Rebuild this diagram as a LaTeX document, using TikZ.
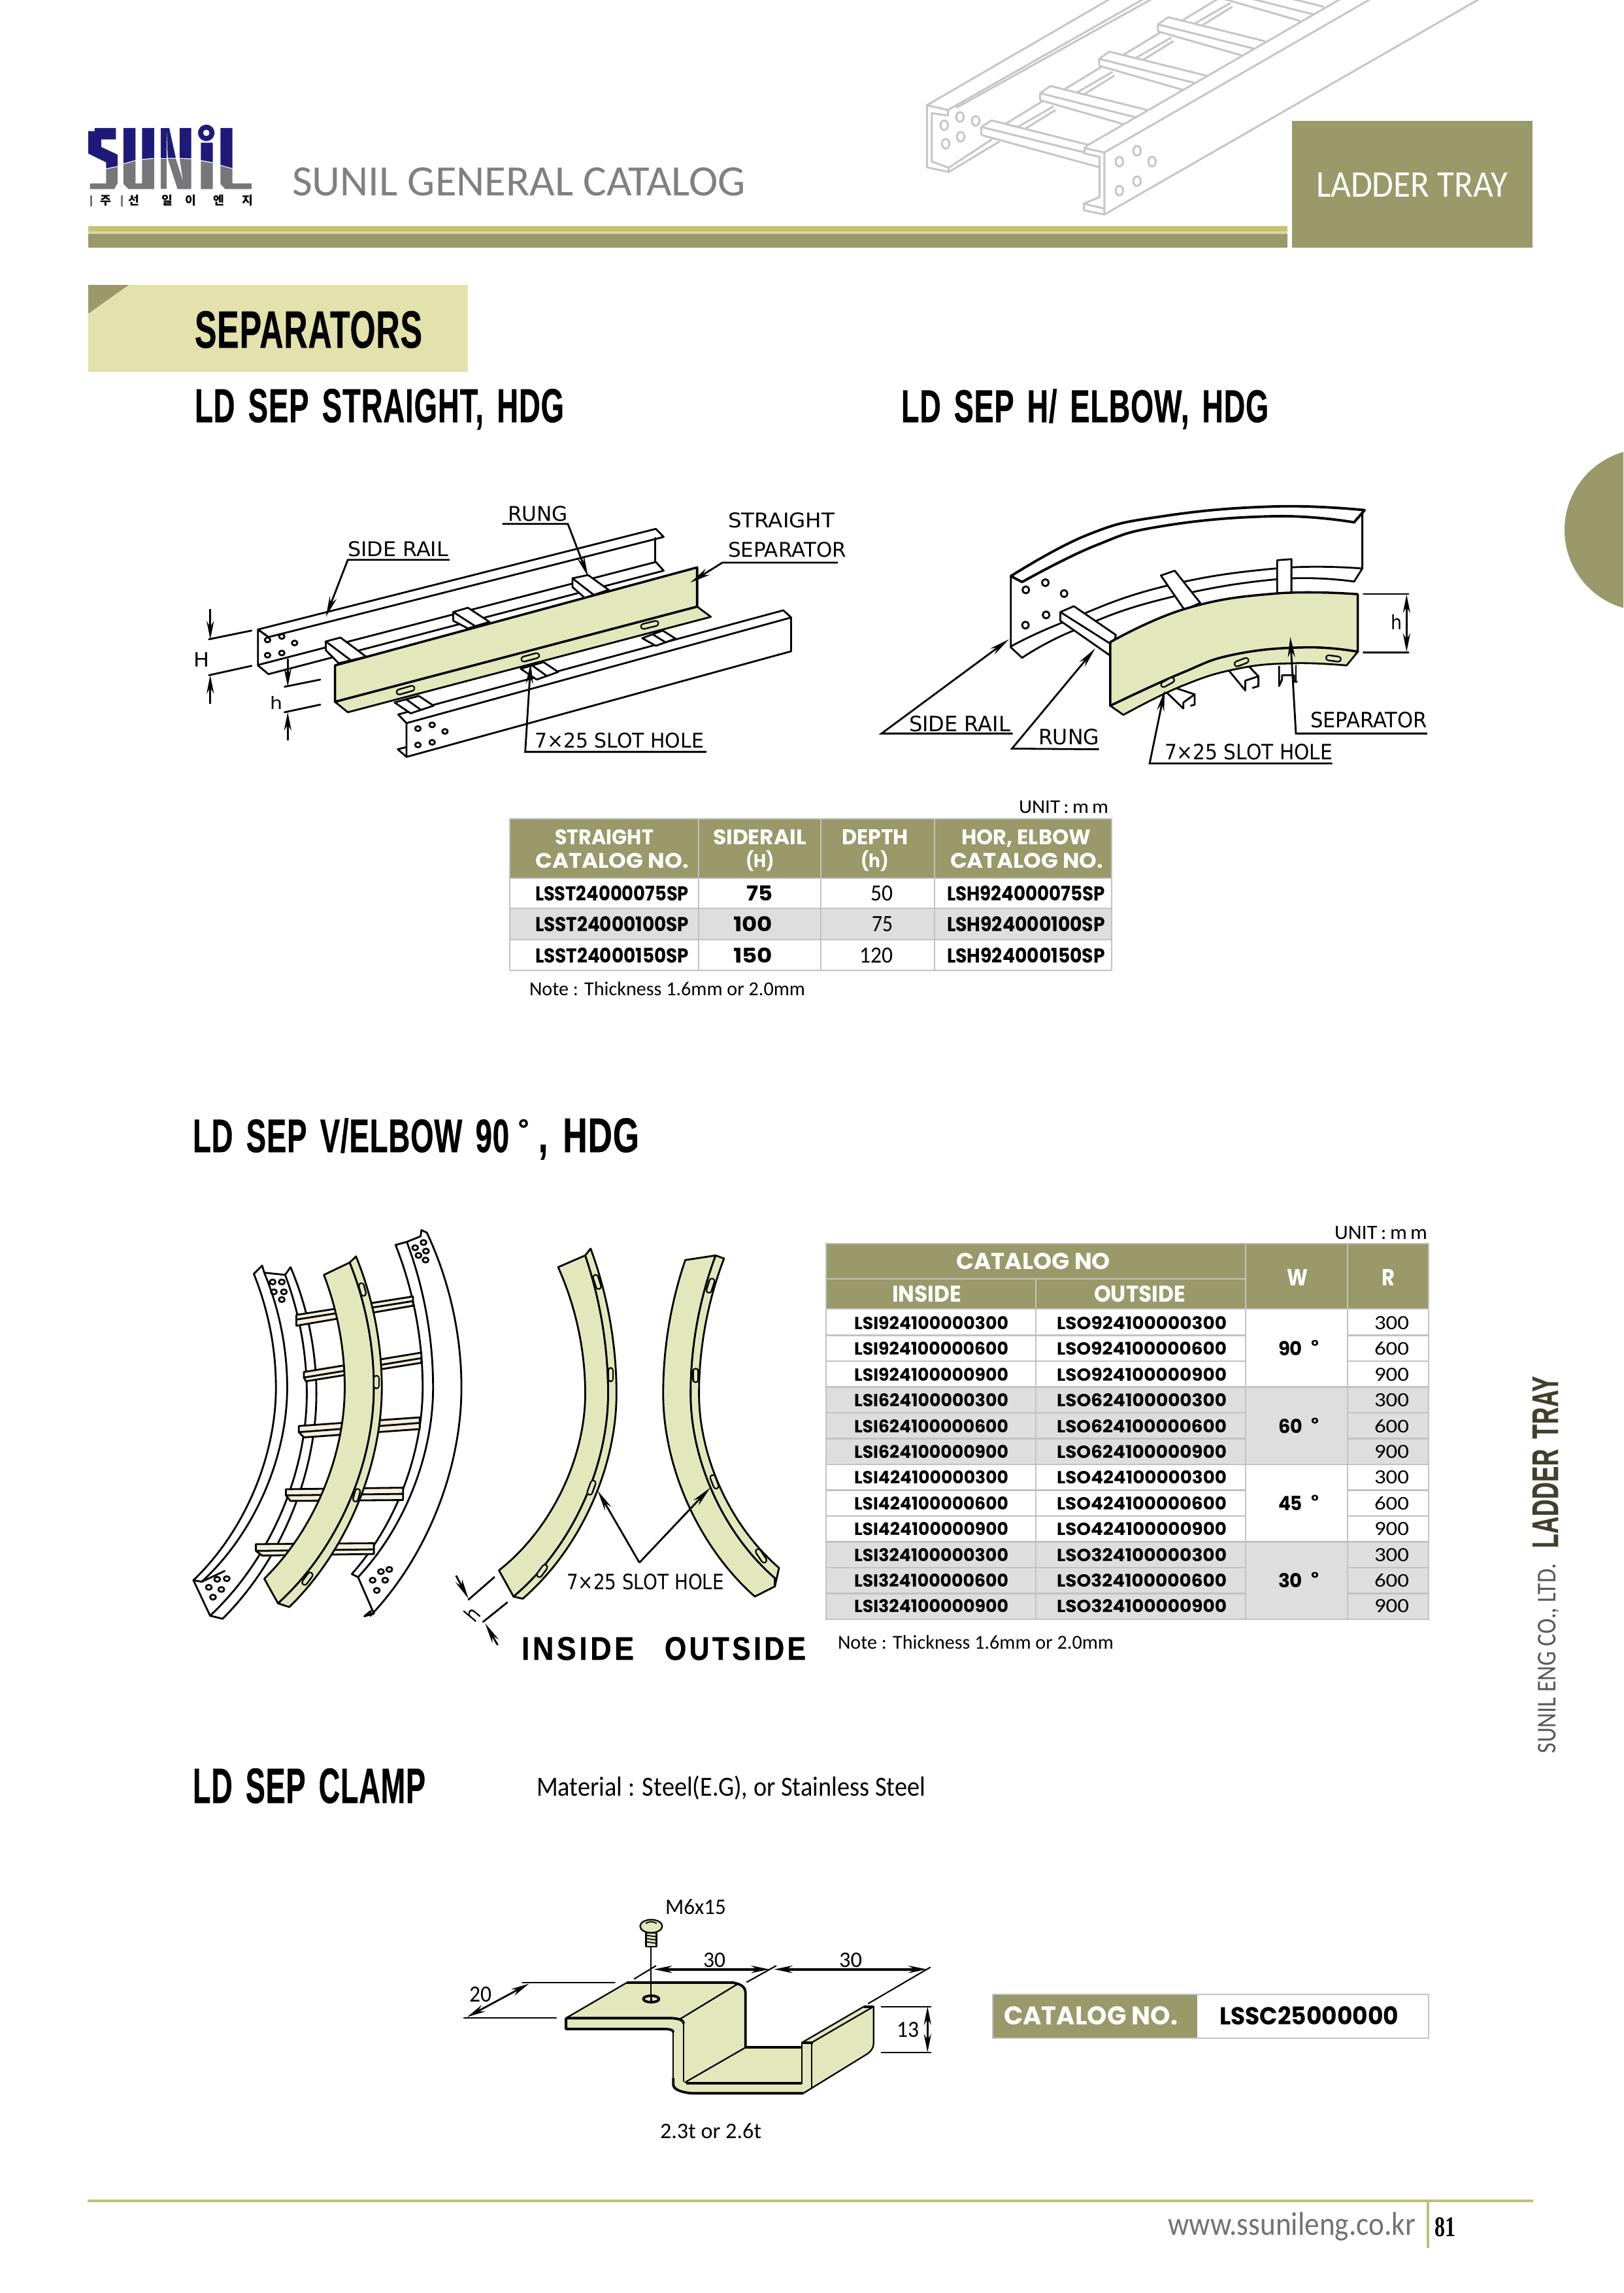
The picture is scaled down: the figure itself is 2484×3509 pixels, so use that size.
\documentclass[tikz,border=0pt]{standalone}
\usepackage{fontspec}
\usepackage{graphicx}
\usetikzlibrary{arrows.meta}
\setmainfont{Liberation Sans}
\newfontfamily\fT{Liberation Sans}[WordSpace=1.5,LetterSpace=2,BoldFeatures={FakeBold=0.7}]
\newfontfamily\fD{DejaVu Sans}
\newfontfamily\fP{Poppins}
\newfontfamily\fC{Carlito}
\newfontfamily\fK{Noto Sans CJK KR}
\newfontfamily\fS{Liberation Serif}
\definecolor{olive}{HTML}{999969}
\definecolor{stripe}{HTML}{C8C26E}
\definecolor{pale}{HTML}{D8D6A0}
\definecolor{banner}{HTML}{E3E1AC}
\definecolor{sepg}{HTML}{E3E8BC}
\definecolor{cream}{HTML}{F4F0DC}
\definecolor{rowg}{HTML}{DEDEDE}
\definecolor{gridg}{HTML}{C2C2C2}
\definecolor{navyl}{HTML}{1F1A7A}
\definecolor{grayl}{HTML}{77777B}
\definecolor{ladg}{HTML}{C6C6C6}
\definecolor{footl}{HTML}{C2BE7A}
\newdimen\pxu \pxu=0.01cm
\newcommand\lab[7][]{\node[anchor=base west,inner sep=0pt,outer sep=0pt,#1] (#2) at (#3,#4) {\resizebox{#5\pxu}{#6\pxu}{#7}};}
\newcommand\tb[1]{{\fT\bfseries #1}}
\newcommand\dg[1]{{\fD #1}}
\newcommand\pp[1]{{\fP\bfseries #1}}
\newcommand\cc[1]{{\fC #1}}
% a curve through top, widest point and bottom, as two near-circular pieces
\newcommand\defcrv[7]{%
 \pgfmathsetmacro\qk{1.351}%
 \pgfmathsetmacro\qdx{(#4-#2)*\qk}\pgfmathsetmacro\qdy{#5-#3}%
 \pgfmathsetmacro\qL{veclen(\qdx,\qdy)}%
 \pgfmathsetmacro\qtx{2*(\qdy/\qL)*(\qdx/\qL)}%
 \pgfmathsetmacro\qty{2*(\qdy/\qL)*(\qdy/\qL)-1}%
 \pgfmathsetmacro\qa{#2+\qL/3*\qtx/\qk}\pgfmathsetmacro\qb{#3+\qL/3*\qty}\pgfmathsetmacro\qc{#5-\qL/3}%
 \pgfmathsetmacro\qdx{(#6-#4)*\qk}\pgfmathsetmacro\qdy{#7-#5}%
 \pgfmathsetmacro\qL{veclen(\qdx,\qdy)}%
 \pgfmathsetmacro\qtx{2*(\qdy/\qL)*(\qdx/\qL)}%
 \pgfmathsetmacro\qty{2*(\qdy/\qL)*(\qdy/\qL)-1}%
 \pgfmathsetmacro\qd{#5+\qL/3}\pgfmathsetmacro\qe{#6-\qL/3*\qtx/\qk}\pgfmathsetmacro\qf{#7-\qL/3*\qty}%
 \expandafter\xdef\csname F#1\endcsname{(#2,#3) .. controls (\qa,\qb) and (#4,\qc) .. (#4,#5) .. controls (#4,\qd) and (\qe,\qf) .. (#6,#7)}%
 \expandafter\xdef\csname B#1\endcsname{(#6,#7) .. controls (\qe,\qf) and (#4,\qd) .. (#4,#5) .. controls (#4,\qc) and (\qa,\qb) .. (#2,#3)}%
}
\tikzset{
  ln/.style={line width=0.8pt,black,line join=round,line cap=round},
  thk/.style={line width=1.1pt,black,line join=round},
  lad/.style={line width=0.85pt,ladg,line join=round},
  grid/.style={line width=0.75pt,gridg},
  slot/.style={double=sepg,double distance=1.5pt,line width=0.7pt,line cap=round,black},
  dim/.style={line width=0.8pt,black,{Stealth[length=8pt,width=3.2pt]}-{Stealth[length=8pt,width=3.2pt]}},
  lead/.style={line width=0.8pt,black,-{Stealth[length=9pt,width=3.2pt]}},
  sm/.style={smooth,tension=.75},
}
\begin{document}
\begin{tikzpicture}[x=0.01cm,y=-0.01cm]
\useasboundingbox (0,0) rectangle (2484,3509);
\clip (0,0) rectangle (2484,3509);
\fill[white] (0,0) rectangle (2484,3509);
% ---------- header ladder drawing
\begin{scope}[shift={(1400,0)},xscale=0.574,yscale=0.3333]
 \draw[lad] (32,483)--(520,-5);
 \draw[lad] (88,505)--(610,-5);
 \draw[lad] (110,495)--(632,-5);
 \draw[lad] (88,505)--(32,483)--(32,768)--(90,790)--(90,770)--(45,742)--(45,520)--(88,530)--cycle;
 \draw[lad] (90,790)--(225,650);
 \draw[lad] (90,770)--(205,640);
 \foreach \hx/\hy in {78/575,120/537,162/555,122/628,82/660,545/742,592/692,632/742,592/832,545/875}
   \draw[lad] (\hx,\hy) ellipse [x radius=10,y radius=22];
 \foreach \k in {0,1,2,3}{
  \begin{scope}[shift={({157*\k},{-158*\k})}]
   \draw[lad] (240,570)--(340,465);
   \draw[lad] (275,582)--(370,488);
   \draw[lad] (295,590)--(375,505);
  \end{scope}}
 \foreach \k in {1,2,3,4,5}{
  \begin{scope}[shift={({157*\k},{-158*\k})}]
   \draw[lad] (177,618)--(177,586)--(204,553)--(462,663);
   \draw[lad] (177,586)--(434,698);
   \draw[lad] (177,618)--(399,728);
  \end{scope}}
 \draw[lad] (177,620)--(177,583)--(204,553)--(462,665);
 \draw[lad] (177,583)--(452,700);
 \draw[lad] (177,620)--(492,768);
 \draw[lad] (462,665)--(1135,-5);
 \draw[lad] (505,700)--(1215,-5);
 \draw[lad] (505,985)--(1505,-5);
 \draw[lad] (462,665)--(452,680)--(505,700)--(505,985)--(450,965)--(450,935)--(492,905)--(492,720)--(452,705)--(452,680);
 \draw[lad] (450,935)--(505,958);
\end{scope}
% ---------- logo
\begin{scope}[shift={(125,180)},xscale=0.3333,yscale=0.3333]
 \fill[navyl] (30,62)--(60,62)--(60,48)--(157,48)--(157,100)--(90,100)--(90,135)--(165,170)--(165,222)--(112,233)--(112,205)--(60,180)--(30,165)--cycle;
 \fill[navyl] (192,48)--(247,48)--(247,195)--(192,210)--cycle;
 \fill[navyl] (277,48)--(333,48)--(333,185)--(277,190)--cycle;
 \fill[navyl] (363,48)--(390,48)--(390,185)--(363,185)--cycle;
 \fill[navyl] (390,48)--(402,48)--(432,185)--(395,185)--cycle;
 \fill[navyl] (450,48)--(503,48)--(503,187)--(450,185)--cycle;
 \fill[navyl] (547,115)--(602,115)--(602,205)--(547,195)--cycle;
 \fill[navyl] (637,48)--(692,48)--(692,232)--(637,217)--cycle;
 \fill[navyl,even odd rule] (572,70) ellipse [x radius=38,y radius=38] (572,70) ellipse [x radius=15,y radius=15];
 \fill[grayl] (112,237)--(165,226)--(165,300)--(150,328)--(38,328)--(38,302)--(112,302)--cycle;
 \fill[grayl] (192,214)--(247,199)--(247,302)--(277,302)--(277,194)--(333,189)--(333,328)--(215,328)--(192,305)--cycle;
 \fill[grayl] (363,189)--(390,189)--(390,328)--(363,328)--cycle;
 \fill[grayl] (395,189)--(432,189)--(477,328)--(440,328)--cycle;
 \fill[grayl] (450,189)--(503,191)--(503,328)--(470,328)--cycle;
 \fill[grayl] (547,199)--(602,209)--(602,328)--(547,328)--cycle;
 \fill[grayl] (637,221)--(692,236)--(692,302)--(780,302)--(780,328)--(660,328)--(637,305)--cycle;
 \fill[grayl] (39,358) rectangle (47,408);
 \fill[grayl] (181,358) rectangle (189,408);
\end{scope}
\foreach \ch/\cx [count=\n] in {주/162,선/205,일/256,이/292,엔/335,지/379}{
  \node[anchor=center,inner sep=0pt,font=\fK\bfseries\fontsize{5.2}{6}\selectfont] (kor\n) at (\cx,307) {\ch};
}
% ---------- header texts and bars
\lab[text=black!50]{hcat}{447}{299}{694}{43}{\cc{SUNIL GENERAL CATALOG}}
\fill[olive] (135,358) rectangle (1970,379);
\fill[pale] (135,354) rectangle (1970,358);
\fill[stripe] (135,346) rectangle (1970,354);
\fill[olive] (1977,185) rectangle (2345,379);
\lab[text=white]{hlad}{2014}{301}{293}{37}{\cc{LADDER TRAY}}
% ---------- banner and titles
\fill[banner] (135,436) rectangle (716,569);
\fill[olive] (135,436)--(197,436)--(135,480)--cycle;
\lab{tsep}{298}{532}{348}{56}{\tb{SEPARATORS}}
\lab{tstr}{298}{646}{565}{51}{\tb{LD SEP STRAIGHT, HDG}}
\lab{telb}{1379}{646}{562}{51}{\tb{LD SEP H/ ELBOW, HDG}}
\lab{tvel}{295}{1763}{484}{52}{\tb{LD SEP V/ELBOW 90}}
\node[anchor=north,inner sep=0pt,font=\fontsize{12}{12}\selectfont] (tdeg) at (801,1712) {\tb{°}};
\lab{tvel2}{824}{1763}{154}{52}{\tb{, HDG}}
\lab{tclamp}{295}{2759}{356}{53}{\tb{LD SEP CLAMP}}
\lab{tmat}{821}{2748}{595}{31}{\cc{Material : Steel(E.G), or Stainless Steel}}
% ---------- right tab and side text
\fill[olive] (2518,811) circle (124);
\lab[rotate=90,text=black!30!olive!60!black]{sideb}{2384}{2369}{263}{39}{\tb{LADDER TRAY}}
\lab[rotate=90,text=black!65]{sidea}{2380}{2683}{290}{27}{\cc{SUNIL ENG CO., LTD.}}
% ---------- straight separator
\begin{scope}[shift={(260,720)},xscale=0.7015,yscale=0.3333]
 % back rail
 \draw[ln] (192,730)--(1060,268)--(1077,305)--(215,765)--cycle;
 \draw[ln] (215,765)--(192,730)--(192,895)--(215,935);
 \draw[ln] (1058,310)--(1058,420);
 \draw[ln] (192,893)--(1060,420)--(1077,460)--(215,935);
 \foreach \hx/\hy in {213/778,244/762,272/792,213/848,244/838} \draw[ln] (\hx,\hy) ellipse [x radius=6,y radius=11];
 % rungs on back rail
 \draw[ln,fill=white] (340,785)--(372,767)--(428,855)--(368,885)--(340,825)--cycle;
 \draw[ln] (340,785)--(395,872);
 \draw[ln,fill=white] (618,650)--(650,630)--(697,695)--(650,725)--(618,690)--cycle;
 \draw[ln] (618,650)--(667,716);
 \draw[ln,fill=white] (878,495)--(912,480)--(957,548)--(905,585)--(878,535)--cycle;
 \draw[ln] (878,495)--(925,572);
 % near rail
 \draw[ln] (498,1120)--(1338,642)--(1355,675)--(516,1160)--cycle;
 \draw[ln] (516,1160)--(516,1315)--(1355,830)--(1355,675);
 \draw[ln] (516,1270)--(497,1280)--(516,1315);
 \foreach \hx/\hy in {541/1185,572/1168,600/1198,541/1260,572/1248} \draw[ln] (\hx,\hy) ellipse [x radius=6,y radius=11];
 % rung stubs
 \draw[ln,fill=white] (490,1065)--(543,1035)--(575,1080)--(525,1115)--cycle;
 \draw[ln] (515,1050)--(548,1100);
 \draw[ln,fill=white] (765,910)--(815,880)--(847,925)--(800,960)--cycle;
 \draw[ln] (790,895)--(822,943);
 \draw[ln,fill=white] (1030,770)--(1075,735)--(1103,772)--(1060,805)--cycle;
 \draw[ln] (1055,755)--(1082,790);
 % separator
 \draw[ln,fill=sepg] (360,1062)--(1150,625)--(1180,672)--(388,1110)--cycle;
 \draw[ln,fill=sepg,line width=1pt] (360,895)--(1150,445)--(1150,625)--(360,1062)--cycle;
 \draw[slot] (500,1017)--(528,1000);
 \draw[slot] (772,866)--(800,850);
 \draw[slot] (1033,716)--(1060,702);
 % dims
 \draw[line width=.8pt,{Stealth[length=8pt,width=3.2pt]}-] (88,775)--(88,637);
 \draw[line width=.8pt,{Stealth[length=8pt,width=3.2pt]}-] (88,940)--(88,1072);
 \draw[ln] (85,775)--(178,735);
 \draw[ln] (85,940)--(178,897);
 \draw[line width=.8pt,{Stealth[length=8pt,width=3.2pt]}-] (257,993)--(257,865);
 \draw[line width=.8pt,{Stealth[length=8pt,width=3.2pt]}-] (257,1110)--(257,1240);
 \draw[ln] (250,993)--(328,960);
 \draw[ln] (250,1110)--(328,1075);
 % leaders
 \draw[lead] (610,410)--(388,410)--(340,672);
 \draw[lead] (725,245)--(868,245)--(912,487);
 \draw[lead] (1457,423)--(1205,423)--(1135,515);
 \draw[lead] (1170,1292)--(775,1292)--(787,885);
\end{scope}
\lab{sSR}{532}{851}{154}{23}{\dg{SIDE RAIL}}
\lab{sRU}{777}{797}{92}{23}{\dg{RUNG}}
\lab{sST}{1114}{807}{163}{23}{\dg{STRAIGHT}}
\lab{sSE}{1114}{852}{181}{23}{\dg{SEPARATOR}}
\lab{sSL}{818}{1144}{259}{23}{\dg{7×25 SLOT HOLE}}
\lab{sH}{296}{1020}{24}{22}{\dg{H}}
\lab{sh}{413}{1085}{19}{20}{\dg{h}}
% ---------- horizontal elbow
\begin{scope}[shift={(1320,740)},xscale=0.574,yscale=0.3333]
 \draw[ln,line width=1.1pt] plot[sm] coordinates {(395,425)(600,235)(800,150)(1100,105)(1338,122)}
    -- (1310,178) -- plot[sm] coordinates {(1310,178)(1100,150)(800,195)(620,285)(425,452)} -- cycle;
 \draw[ln] (395,425)--(395,752)--(425,800);
 \draw[ln] (1332,130)--(1332,390)--(1310,450);
 \draw[ln] plot[sm] coordinates {(395,748)(530,640)(790,478)(1100,390)(1332,390)};
 \draw[ln] plot[sm] coordinates {(425,800)(555,680)(790,535)(1100,440)(1310,450)};
 \foreach \hx/\hy in {435/488,487/455,537/505,489/603,434/650} \draw[ln] (\hx,\hy) ellipse [x radius=9,y radius=16];
 \draw[ln,fill=white] (527,590)--(563,563)--(675,695)--(660,790)--(527,630)--cycle;
 \draw[ln] (527,590)--(660,735);
 \draw[ln,fill=white] (795,422)--(832,400)--(900,548)--(858,580)--cycle;
 \draw[ln,fill=white] (1105,352)--(1143,347)--(1143,505)--(1105,505)--cycle;
 % stubs under the separator
 \draw[ln] (808,955)--(855,1033)--(855,1005)--(885,968)--(885,1015)--(875,1020);
 \draw[ln] (828,935)--(885,968);
 \draw[ln] (977,860)--(1020,950)--(1020,905)--(1055,885)--(1055,930)--(1040,938);
 \draw[ln] (1030,840)--(1055,885);
 \draw[ln] (1110,840)--(1110,930)--(1118,900)--(1118,880)--(1150,880)--(1150,910)--(1158,910);
 \draw[ln] (1155,835)--(1155,910);
 % separator
 \draw[ln,fill=sepg] plot[sm] coordinates {(660,1020)(850,870)(990,785)(1180,752)(1320,772)}
    -- (1290,835) -- plot[sm] coordinates {(1290,835)(1150,825)(1000,850)(850,930)(695,1062)} -- cycle;
 \draw[ln,fill=sepg,line width=1pt] plot[sm] coordinates {(660,728)(860,575)(1100,505)(1320,508)}
    -- (1320,772) -- plot[sm] coordinates {(1320,772)(1180,752)(990,785)(850,870)(660,1020)} -- cycle;
 \draw[slot] (802,923)--(824,902);
 \draw[slot] (998,828)--(1022,812);
 \draw[slot] (1242,800)--(1268,806);
 % dim h
 \draw[ln] (1335,507)--(1455,507);
 \draw[ln] (1335,775)--(1455,775);
 \draw[dim] (1450,510)--(1450,772);
 % leaders
 \draw[lead] (400,1148)--(50,1148)--(390,715);
 \draw[lead] (630,1220)--(398,1217)--(620,757);
 \draw[lead] (1252,1285)--(765,1285)--(805,950);
 \draw[lead] (1505,1148)--(1155,1148)--(1140,703);
\end{scope}
\lab{eSR}{1391}{1119}{155}{24}{\dg{SIDE RAIL}}
\lab{eRU}{1589}{1139}{93}{24}{\dg{RUNG}}
\lab{eSL}{1782}{1162}{257}{24}{\dg{7×25 SLOT HOLE}}
\lab{eSE}{2005}{1113}{179}{24}{\dg{SEPARATOR}}
\lab{eh}{2128}{963}{17}{23}{\dg{h}}
% ---------- table 1
\lab{u1}{1559}{1244}{137}{19}{\cc{UNIT\,:\,m\,m}}
\fill[olive] (780,1253) rectangle (1701,1344);
\fill[rowg] (780,1390) rectangle (1701,1438);
\draw[grid] (780,1253) rectangle (1701,1485);
\foreach \yy in {1344,1390,1438} \draw[grid] (780,\yy)--(1701,\yy);
\foreach \xx in {1069,1256,1430} \draw[grid] (\xx,1253)--(\xx,1485);
\lab[text=white]{h11}{849}{1292}{151}{23}{\pp{STRAIGHT}}
\lab[text=white]{h12}{819}{1328}{235}{23}{\pp{CATALOG NO.}}
\lab[text=white]{h21}{1091}{1292}{143}{23}{\pp{SIDERAIL}}
\lab[text=white]{h22}{1141}{1327}{44}{26}{\pp{(H)}}
\lab[text=white]{h31}{1288}{1292}{102}{23}{\pp{DEPTH}}
\lab[text=white]{h32}{1317}{1327}{43}{26}{\pp{(h)}}
\lab[text=white]{h41}{1471}{1292}{198}{23}{\pp{HOR, ELBOW}}
\lab[text=white]{h42}{1454}{1328}{234}{23}{\pp{CATALOG NO.}}
\foreach \yb/\sza/\xb/\wb/\da/\xd/\wdd [count=\n] in {1378/075/1142/40/50/1332/34,1425/100/1122/60/75/1334/32,1473/150/1122/60/120/1315/51}{
  \lab{ra\n}{819}{\yb}{235}{23}{\pp{LSST24000\sza SP}}
  \pgfmathtruncatemacro\szb{\sza}
  \lab{rb\n}{\xb}{\yb}{\wb}{23}{\pp{\szb}}
  \lab{rc\n}{\xd}{\yb}{\wdd}{23}{\cc{\da}}
  \lab{rd\n}{1449}{\yb}{242}{23}{\pp{LSH924000\sza SP}}
}
\lab{n1}{810}{1523}{422}{21}{\cc{Note : Thickness 1.6mm or 2.0mm}}
% ---------- vertical elbow
\begin{scope}[shift={(280,1840)},xscale=0.6378,yscale=0.472]
 \defcrv{La}{170}{232}{223}{600}{25}{1225}
 \defcrv{Lb}{195}{228}{250}{600}{45}{1230}
 \defcrv{Lc}{245}{235}{297}{620}{65}{1340}
 \defcrv{Ld}{258}{210}{320}{620}{95}{1350}
 \defcrv{Ra}{510}{138}{575}{600}{405}{1205}
 \defcrv{Rb}{537}{128}{600}{600}{420}{1215}
 \defcrv{Rc}{585}{98}{668}{600}{450}{1340}
 \defcrv{Sa}{338}{235}{388}{600}{195}{1220}
 \defcrv{Sb}{400}{195}{458}{600}{228}{1300}
 \defcrv{Sc}{415}{175}{477}{600}{255}{1312}
 \defcrv{Ia}{900}{210}{965}{620}{758}{1193}
 \defcrv{Ib}{965}{172}{1020}{620}{793}{1278}
 \defcrv{Ic}{978}{150}{1040}{620}{815}{1285}
 \defcrv{Oa}{1205}{187}{1152}{620}{1372}{1278}
 \defcrv{Ob}{1278}{172}{1218}{620}{1420}{1218}
 \defcrv{Oc}{1298}{182}{1238}{620}{1430}{1185}
 % left rail
 \draw[ln] \FLa;
 \draw[ln] \FLb;
 \draw[ln] \FLc;
 \draw[ln] \FLd;
 \draw[ln] (170,232)--(190,205)--(195,228)--(245,235)--(258,210);
 \draw[ln] (25,1225)--(45,1230)--(100,1195);
 \draw[ln] (25,1225)--(65,1340)--(95,1350);
 \foreach \hx/\hy in {215/258,237/258,218/290,242/290,237/315,62/1248,82/1222,105/1220,92/1255,72/1280}
   \draw[ln] (\hx,\hy) ellipse [x radius=7,y radius=8];
 % right rail
 \draw[ln] \FRa;
 \draw[ln] \FRb;
 \draw[ln] \FRc;
 \draw[ln] (510,138)--(537,128)--(570,110)--(572,90)--(585,98);
 \draw[ln] (405,1205)--(420,1215)--(458,1333)--(435,1342)--(450,1325)--(450,1340);
 \foreach \hx/\hy in {557/147,577/130,565/172,583/158,582/187,455/1225,485/1225,475/1197,495/1190,465/1258}
   \draw[ln] (\hx,\hy) ellipse [x radius=7,y radius=8];
 % rungs
 \foreach \ax/\ay/\bx/\by/\cy/\dy/\ex/\fy/\gy in {272/365/552/305/380/320/272/400/335,290/550/572/487/568/505/295/580/520,278/725/568/697/745/715/290/762/735,247/930/528/925/950/945/258/968/965,175/1108/458/1105/1130/1125/190/1145/1140}{
   \draw[ln,fill=cream] (\ax,\ay)--(\bx,\by)--(\bx,\gy)--(\ex,\fy)--(\ax,\cy)--cycle;
   \draw[ln] (\ax,\cy)--(\bx,\dy);
 }
 % separator in tray
 \draw[ln,fill=sepg] \FSa -- \BSb -- cycle;
 \draw[ln,fill=sepg] \FSb -- \BSc -- cycle;
 \draw[slot] (428,270)--(433,295);
 \draw[slot] (464,570)--(464,595);
 \draw[slot] (419,937)--(414,962);
 \draw[slot] (305,1208)--(292,1232);
 % inside
 \draw[ln,fill=sepg] \FIa -- \BIb -- cycle;
 \draw[ln,fill=sepg] \FIb -- \BIc -- cycle;
 \draw[slot] (990,243)--(997,273);
 \draw[slot] (1026,545)--(1026,572);
 \draw[slot] (984,910)--(976,940);
 \draw[slot] (868,1183)--(855,1207);
 % outside
 \draw[ln,fill=sepg] \FOa -- (1420,1245) -- \BOb -- cycle;
 \draw[ln,fill=sepg] \FOb -- (1420,1245) -- \BOc -- cycle;
 \draw[slot] (1269,255)--(1262,285);
 \draw[slot] (1230,547)--(1230,575);
 \draw[slot] (1271,892)--(1279,920);
 \draw[slot] (1380,1132)--(1394,1160);
 % leaders
 \draw[lead] (1095,1168)--(995,935);
 \draw[lead] (1095,1168)--(1265,925);
 % dim h
 \draw[ln] (685,1288)--(747,1215);
 \draw[ln] (720,1360)--(778,1297);
 \draw[lead] (655,1210)--(685,1285);
 \draw[lead] (755,1435)--(725,1365);
\end{scope}
\lab[rotate=50]{vh}{726}{2484}{17}{25}{\dg{h}}
\lab{vSL}{867}{2432}{241}{24}{\dg{7×25 SLOT HOLE}}
\lab{vIN}{798}{2540}{172}{35}{\tb{I\kern1pt N\kern1pt S\kern1pt I\kern1pt D\kern1pt E}}
\lab{vOU}{1017}{2540}{216}{35}{\tb{O\kern1pt U\kern1pt T\kern1pt S\kern1pt I\kern1pt D\kern1pt E}}
% ---------- table 2
\lab{u2}{2042}{1896}{142}{20}{\cc{UNIT\,:\,m\,m}}
\fill[olive] (1264,1903) rectangle (2186,2003);
\fill[rowg] (1264,2122.5) rectangle (2186,2240.5);
\fill[rowg] (1264,2359.5) rectangle (2186,2478);
\draw[grid] (1264,1903) rectangle (2186,2478);
\draw[grid] (1264,1957)--(1906,1957);
\draw[grid] (1264,2003)--(2186,2003);
\draw[grid] (1585,1957)--(1585,2478);
\draw[grid] (1906,1903)--(1906,2478);
\draw[grid] (2062,1903)--(2062,2478);
\foreach \k in {1,...,11}{
  \pgfmathsetmacro\yy{2004+39.5*\k}
  \draw[grid] (1264,\yy)--(1906,\yy);
  \draw[grid] (2062,\yy)--(2186,\yy);
}
\foreach \k in {3,6,9}{
  \pgfmathsetmacro\yy{2004+39.5*\k}
  \draw[grid] (1906,\yy)--(2062,\yy);
}
\lab[text=white]{g1}{1463}{1942}{236}{25}{\pp{CATALOG NO}}
\lab[text=white]{g2}{1365}{1992}{106}{25}{\pp{INSIDE}}
\lab[text=white]{g3}{1674}{1992}{140}{25}{\pp{OUTSIDE}}
\lab[text=white]{g4}{1969}{1967}{32}{25}{\pp{W}}
\lab[text=white]{g5}{2114}{1967}{20}{25}{\pp{R}}
\foreach \g [count=\i from 0] in {9,6,4,3}{
 \foreach \s [count=\j from 0] in {300,600,900}{
  \pgfmathsetmacro\yb{2034.4+39.4*(3*\i+\j)}
  \lab{li\i\j}{1307}{\yb}{236}{20}{\pp{LSI\g 24100000\s}}
  \lab{lo\i\j}{1617}{\yb}{260}{20}{\pp{LSO\g 24100000\s}}
  \lab{lr\i\j}{2103}{\yb}{53}{20}{\cc{\s}}
 }
}
\foreach \wv/\yb [count=\n] in {90/2074,60/2193,45/2311,30/2429}{
  \lab{w\n}{1956}{\yb}{37}{22}{\pp{\wv}}
  \node[anchor=north,inner sep=0pt,font=\fontsize{7}{7}\selectfont] (wdeg\n) at (2012,\yb-24) {\pp{°}};
}
\lab{n2}{1282}{2523}{422}{21}{\cc{Note : Thickness 1.6mm or 2.0mm}}
% ---------- clamp
\begin{scope}[shift={(680,2860)},xscale=0.995,yscale=0.3333,ln/.append style={line width=0.65pt}]
 \fill[sepg] (280,523)--(445,523) .. controls (458,530) and (463,545) .. (463,570)--(463,820)--(550,820)--(550,797)--(645,632)--(660,632)--(660,800) .. controls (660,825) and (655,840) .. (650,850)--(552,1030)--(380,1030) .. controls (362,1025) and (352,1010) .. (352,990)--(352,735)--(187,735)--(187,685)--cycle;
 \draw[thk] (280,523)--(445,523);
 \draw[ln] (280,523)--(187,685);
 \draw[thk] (187,685)--(350,685) .. controls (362,688) and (368,695) .. (368,710);
 \draw[ln] (368,710)--(368,975);
 \draw[thk] (372,985)--(550,985);
 \draw[thk] (445,523) .. controls (458,530) and (463,545) .. (463,570)--(463,820);
 \draw[ln] (450,530)--(362,690);
 \draw[thk] (187,685)--(187,735)--(340,735) .. controls (349,736) and (352,742) .. (352,750);
 \draw[ln] (352,750)--(352,990);
 \draw[thk] (352,960)--(352,990) .. controls (352,1010) and (362,1025) .. (380,1030)--(552,1030);
 \draw[ln] (463,820)--(370,980);
 \draw[thk] (463,820)--(550,820);
 \draw[ln] (550,797)--(550,985);
 \draw[ln] (565,797)--(565,1005);
 \draw[thk] (550,797)--(567,797);
 \draw[ln] (565,797)--(660,632);
 \draw[ln] (550,797)--(645,632);
 \draw[thk] (645,632)--(660,632);
 \draw[ln] (660,632)--(660,800) .. controls (660,825) and (655,840) .. (650,850)--(552,1030);
 % hole and screw
 \draw[ln,line width=1.1pt] (318,597) ellipse [x radius=12,y radius=15];
 \draw[ln] (318,585)--(318,610);
 \draw[ln,line width=.6pt] (318,358)--(318,585);
 \draw[ln,fill=sepg] (310,293) rectangle (326,356);
 \draw[ln,fill=sepg] (318,263) ellipse [x radius=17,y radius=30];
 \foreach \sy in {305,320,335} \draw[ln,line width=.5pt] (311,\sy)--(325,\sy+6);
 \draw[ln,line width=.5pt] (310,250) .. controls (314,240) and (322,240) .. (326,250);
 % dims
 \draw[dim,line width=1.1pt] (322,461)--(500,461);
 \draw[dim,line width=1.1pt] (507,461)--(742,461);
 \draw[ln,line width=.6pt] (292,505)--(325,445);
 \draw[ln,line width=.6pt] (465,520)--(510,445);
 \draw[ln,line width=.6pt] (652,618)--(747,452);
 \draw[ln] (120,523)--(262,523);
 \draw[ln] (30,685)--(172,685);
 \draw[dim] (130,527)--(35,680);
 \draw[ln] (672,632)--(748,632);
 \draw[ln] (672,842)--(748,842);
 \draw[dim] (743,632)--(743,842);
\end{scope}
\lab{cM}{1018}{2929}{93}{23}{\cc{M6x15}}
\lab{c30a}{1076}{3010}{34}{22}{\cc{30}}
\lab{c30b}{1284}{3010}{35}{22}{\cc{30}}
\lab{c20}{718}{3063}{34}{23}{\cc{20}}
\lab{c13}{1372}{3117}{34}{23}{\cc{13}}
\lab{ct}{1010}{3272}{155}{23}{\cc{2.3t or 2.6t}}
\fill[olive] (1519,3052) rectangle (1832,3119);
\draw[grid] (1519,3052) rectangle (2186,3119);
\lab[text=white]{cc1}{1536}{3098}{266}{28}{\pp{CATALOG NO.}}
\lab{cc2}{1866}{3098}{274}{28}{\pp{LSSC25000000}}
% ---------- footer
\draw[footl,line width=1pt] (134,3368)--(2346,3368);
\draw[footl,line width=1pt] (2185,3368)--(2185,3440);
\lab[text=black!55]{fw}{1787}{3420}{379}{35}{\cc{www.ssunileng.co.kr}}
\lab{fp}{2195}{3422}{32}{29}{{\fS\bfseries 81}}
\end{tikzpicture}
\end{document}
